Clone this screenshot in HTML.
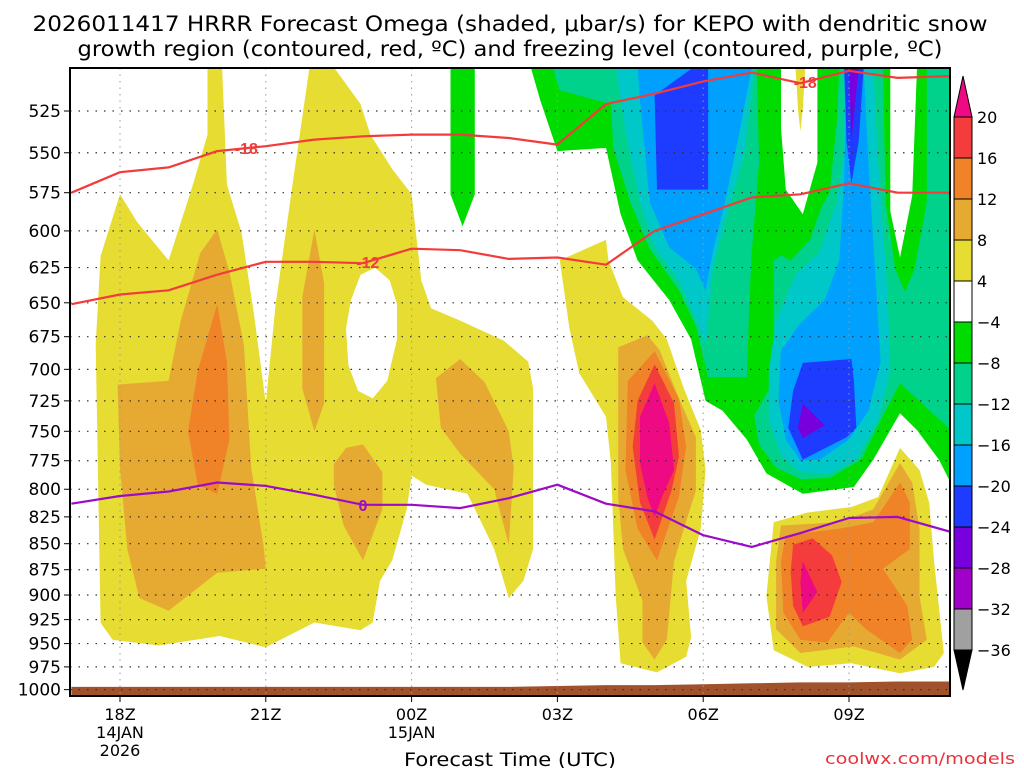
<!DOCTYPE html>
<html><head><meta charset="utf-8"><style>
html,body{margin:0;padding:0;background:#fff;}
svg{display:block;font-family:"DejaVu Sans","Liberation Sans",sans-serif;}
</style></head><body>
<svg id="chart" width="1024" height="768" xmlns="http://www.w3.org/2000/svg">
<defs><clipPath id="plotclip"><rect x="70" y="68" width="880" height="628"/></clipPath></defs>
<text x="510" y="31" font-size="21" text-anchor="middle" textLength="955" lengthAdjust="spacingAndGlyphs">2026011417 HRRR Forecast Omega (shaded, μbar/s) for KEPO with dendritic snow</text>
<text x="510" y="56" font-size="21" text-anchor="middle" textLength="865" lengthAdjust="spacingAndGlyphs">growth region (contoured, red, ºC) and freezing level (contoured, purple, ºC)</text>
<g id="shade" clip-path="url(#plotclip)"></g>
<g id="grid"></g>
<g id="lines" clip-path="url(#plotclip)"></g>
<g id="axes"></g>
<g id="cbar"></g>
<text x="510" y="766" font-size="19" text-anchor="middle" textLength="212" lengthAdjust="spacingAndGlyphs">Forecast Time (UTC)</text>
<text x="1015" y="764" font-size="16" fill="#e8323c" text-anchor="end" textLength="190" lengthAdjust="spacingAndGlyphs">coolwx.com/models</text>
</svg>
<script>
// ---- data ----
const pressureLevels = [525,550,575,600,625,650,675,700,725,750,775,800,825,850,875,900,925,950,975,1000];
const timeTicksHour = [18,21,24,27,30,33];
const timeTickLabels = [["18Z","14JAN","2026"],["21Z"],["00Z","15JAN"],["03Z"],["06Z"],["09Z"]];
const lineHours = [17,18,19,20,21,22,23,24,25,26,27,28,29,30,31,32,33,34,35.1];
const isoMinus18 = [575,562,559,549,546,542,540,539,539,541,545,521,515,508,503,509,502,506,505];
const isoMinus12 = [651,644,641,630,621,621,622,612,613,619,618,623,600,589,578,576,569,575,575];
const isoZero = [813,806,802,794,797,805,814,814,817,808,796,813,820,842,853,840,826,825,839];
const surfacePressure = [997,997,997,997,997,997,997,997,997,997,996,995,995,994,993,992,992,991,991];
const cbarLevels = [20,16,12,8,4,-4,-8,-12,-16,-20,-24,-28,-32,-36];
const cbarColors = ["#f53c3c","#f08228","#e6aa32","#e6dc32","#ffffff","#00dc00","#00d28c","#00c8c8","#00a0ff","#1e3cff","#7800dc","#a000c8","#a0a0a0"];
// omega contour regions: [[hour, hPa],...]
const regionYellowLeft = [[17.6,928],[17.5,681],[17.6,617],[18.0,576],[18.35,594],[19.0,620],[19.5,570],[19.8,539],[19.8,500],[20.1,500],[20.2,570],[20.5,601],[20.75,657],[21.0,727],[21.2,652],[21.55,570],[21.9,500],[22.4,500],[22.95,521],[23.15,539],[23.6,560],[24.0,576],[24.2,634],[24.4,654],[25.0,663],[25.9,678],[26.4,694],[26.5,715],[26.5,855],[26.3,886],[26.0,903],[25.7,855],[25.15,804],[24.3,796],[24.0,788],[23.9,818],[23.6,866],[23.35,886],[23.2,928],[22.95,936],[22.0,928],[21.0,954],[20.05,942],[18.8,952],[17.85,946],[17.65,932]];
const regionHoleLeft = [[22.75,648],[22.95,630],[23.25,625],[23.55,634],[23.7,651],[23.7,677],[23.5,709],[23.2,723],[22.9,717],[22.7,697],[22.65,669]];
const regionOrangeA = [[17.95,712],[19.0,709],[19.25,663],[19.65,615],[20.0,599],[20.25,628],[20.55,681],[20.7,781],[20.95,851],[21.0,874],[20.0,878],[19.0,916],[18.4,903],[18.15,855],[18.0,781]];
const regionOrangeB = [[20.0,651],[20.2,694],[20.25,757],[20.0,804],[19.6,796],[19.4,750],[19.6,701]];
const regionOrangeC = [[22.0,599],[22.2,636],[22.2,727],[22.0,750],[21.75,715],[21.75,646]];
const regionOrangeD = [[22.4,778],[22.65,764],[23.0,761],[23.4,785],[23.4,818],[23.0,866],[22.6,833],[22.4,796]];
const regionOrangeE = [[24.5,707],[25.0,692],[25.5,710],[26.0,750],[26.1,781],[26.0,851],[25.7,800],[25.0,769],[24.6,747]];
const regionGreenTop = [[24.8,500],[25.3,500],[25.3,576],[25.05,597],[24.8,576]];
const regionGreenBig = [[26.45,500],[35.1,500],[35.1,795],[34.85,774],[34.4,749],[34.05,735],[33.5,774],[33.1,798],[32.05,804],[31.3,786],[30.9,757],[30.4,733],[30.05,725],[29.75,677],[29.3,648],[28.65,620],[28.3,589],[28.0,547],[27.0,549],[26.65,519]];
const regionTealLeft = [[26.9,500],[31.1,500],[31.15,556],[31.0,614],[30.95,648],[30.9,706],[30.1,706],[29.85,667],[29.5,641],[28.9,612],[28.5,581],[28.15,547],[28.1,521],[27.05,513]];
const regionTealRight = [[32.8,500],[35.1,500],[35.1,749],[34.05,711],[33.65,741],[33.25,774],[32.6,790],[32.0,791],[31.5,781],[31.15,761],[31.05,737],[31.45,709],[31.45,620],[32.0,609],[32.6,575],[32.75,531]];
const regionGreenHoleRim = [[31.45,500],[32.8,500],[32.6,569],[32.2,606],[31.8,620],[31.45,614]];
const regionGreenColumn = [[33.7,500],[34.6,500],[34.6,581],[34.35,626],[34.15,642],[33.95,626],[33.75,581]];
const regionWhiteA = [[31.6,500],[32.35,500],[32.35,556],[32.05,589],[31.7,573],[31.6,535]];
const regionWhiteB = [[33.85,500],[34.4,500],[34.3,577],[34.05,618],[33.85,587],[33.85,535]];
const regionYellowSliver = [[31.9,500],[32.1,500],[32.05,524],[32.0,537],[31.95,524]];
const regionCyanLeft = [[28.2,500],[31.05,500],[30.85,550],[30.45,594],[30.2,626],[30.05,681],[29.85,662],[29.5,634],[29.0,611],[28.7,581],[28.4,537]];
const regionSkyLeft = [[28.65,500],[31.0,500],[30.75,537],[30.45,581],[30.2,614],[30.05,641],[29.85,626],[29.3,611],[28.9,581],[28.7,519]];
const regionBlueLeft = [[29.0,516],[29.75,501],[30.1,500],[30.1,573],[29.05,573]];
const regionCyanRight = [[32.9,500],[33.5,500],[33.6,556],[33.8,648],[33.85,701],[33.6,741],[33.15,774],[32.6,786],[32.0,785],[31.6,770],[31.35,741],[31.35,701],[31.5,663],[31.9,630],[32.4,614],[32.75,581],[32.9,549]];
const regionSkyRight = [[32.95,500],[33.3,500],[33.4,556],[33.55,634],[33.65,694],[33.4,733],[33.0,757],[32.4,774],[32.0,775],[31.7,757],[31.55,725],[31.6,685],[32.0,665],[32.5,648],[32.8,620],[32.9,569]];
const regionBlueTop = [[32.9,500],[33.3,500],[33.2,543],[33.05,569],[32.95,543]];
const regionBlueLow = [[32.05,695],[33.05,692],[33.1,709],[33.15,747],[32.95,755],[32.05,774],[31.75,747],[31.85,717]];
const regionPurpleTop = [[33.0,500],[33.2,500],[33.05,543]];
const regionPurpleLow = [[32.05,727],[32.5,745],[32.05,756],[31.95,747]];
const regionYellowMid = [[27.05,620],[28.0,606],[28.05,620],[28.35,646],[28.95,663],[29.25,677],[29.6,715],[29.95,749],[30.05,783],[29.95,836],[29.65,886],[29.75,943],[29.65,964],[29.05,981],[28.3,971],[28.2,901],[28.1,777],[28.0,738],[27.45,703],[27.25,669]];
const regionOrangeMid1 = [[28.25,683],[28.85,674],[29.1,685],[29.5,723],[29.85,755],[29.85,801],[29.6,836],[29.4,867],[29.25,946],[29.0,967],[28.75,949],[28.75,906],[28.35,855],[28.25,807],[28.25,723]];
const regionOrangeMid2 = [[28.45,709],[29.0,686],[29.5,723],[29.65,763],[29.5,807],[29.05,866],[28.65,836],[28.4,783]];
const regionRedMid = [[28.65,725],[29.0,696],[29.4,727],[29.5,771],[29.35,801],[29.0,846],[28.7,812],[28.55,763]];
const regionMagentaMid = [[28.7,738],[29.0,711],[29.3,743],[29.4,783],[29.15,807],[29.0,825],[28.85,807],[28.7,777]];
const regionYellowRight = [[31.45,830],[32.15,821],[33.05,816],[33.6,807],[34.05,764],[34.45,783],[34.65,812],[34.75,867],[34.95,960],[34.75,975],[34.05,982],[33.05,971],[32.15,975],[31.45,957],[31.3,901]];
const regionOrangeRight1 = [[31.6,833],[32.8,830],[33.5,818],[34.05,777],[34.3,794],[34.45,836],[34.45,901],[34.6,946],[34.05,967],[33.1,953],[32.0,960],[31.5,935],[31.5,867]];
const regionOrangeRight2 = [[31.7,842],[32.8,836],[33.5,830],[34.05,794],[34.25,812],[34.25,855],[33.7,874],[34.2,911],[34.3,946],[34.05,960],[33.35,935],[33.0,918],[32.55,949],[32.0,946],[31.65,918],[31.6,867]];
const regionRedRight = [[31.85,851],[32.25,845],[32.65,861],[32.85,887],[32.6,922],[32.05,932],[31.85,911],[31.8,877]];
const regionMagentaRight = [[32.05,867],[32.35,897],[32.05,918],[32.0,887]];

// ---- axes ----
function X(h){ return 120 + (h-18)*48.6; }
function Y(p){ return 111 + 898*Math.log(p/525); }
const NS="http://www.w3.org/2000/svg";
function mk(tag, attrs, parent){ const e=document.createElementNS(NS,tag); for(const k in attrs) e.setAttribute(k,attrs[k]); parent.appendChild(e); return e; }
const colorOf = {y:"#e6dc32",o1:"#e6aa32",o2:"#f08228",r:"#f53c3c",m:"#ee0a82",w:"#ffffff",g:"#00dc00",t:"#00d28c",c:"#00c8c8",s:"#00a0ff",b:"#1e3cff",p:"#7800dc"};
const shade=document.getElementById('shade');
const layers = [
 ["yellow-region-left",regionYellowLeft,"y"],["white-hole-left",regionHoleLeft,"w"],
 ["orange-region-a",regionOrangeA,"o1"],["orange-region-b",regionOrangeB,"o2"],["orange-region-c",regionOrangeC,"o1"],["orange-region-d",regionOrangeD,"o1"],["orange-region-e",regionOrangeE,"o1"],
 ["green-region-top",regionGreenTop,"g"],["green-region-big",regionGreenBig,"g"],
 ["teal-region-left",regionTealLeft,"t"],["teal-region-right",regionTealRight,"t"],
 ["green-hole-rim",regionGreenHoleRim,"g"],["green-column",regionGreenColumn,"g"],
 ["white-hole-a",regionWhiteA,"w"],["white-hole-b",regionWhiteB,"w"],["yellow-sliver",regionYellowSliver,"y"],
 ["cyan-region-left",regionCyanLeft,"c"],["sky-region-left",regionSkyLeft,"s"],["blue-region-left",regionBlueLeft,"b"],
 ["cyan-region-right",regionCyanRight,"c"],["sky-region-right",regionSkyRight,"s"],["blue-region-top",regionBlueTop,"b"],["blue-region-low",regionBlueLow,"b"],
 ["purple-region-top",regionPurpleTop,"p"],["purple-region-low",regionPurpleLow,"p"],
 ["yellow-region-mid",regionYellowMid,"y"],["orange-region-mid1",regionOrangeMid1,"o1"],["orange-region-mid2",regionOrangeMid2,"o2"],["red-region-mid",regionRedMid,"r"],["magenta-region-mid",regionMagentaMid,"m"],
 ["yellow-region-right",regionYellowRight,"y"],["orange-region-right1",regionOrangeRight1,"o1"],["orange-region-right2",regionOrangeRight2,"o2"],["red-region-right",regionRedRight,"r"],["magenta-region-right",regionMagentaRight,"m"]
];
layers.forEach(L=>{
  const pts = L[1].map(q=>X(q[0]).toFixed(1)+","+Y(q[1]).toFixed(1)).join(" ");
  const el = mk('polygon',{points:pts,fill:colorOf[L[2]]},shade);
  
  
});
// terrain
{
  let d = "M"+X(lineHours[0])+","+Y(1010);
  lineHours.forEach((h,i)=>{ d += " L"+X(h).toFixed(1)+","+Y(surfacePressure[i]).toFixed(1); });
  d += " L"+X(lineHours[lineHours.length-1])+","+Y(1010)+" Z";
  const el = mk('path',{d:d,fill:"#a0522d"},shade);
  
  
}
// grid
const grid=document.getElementById('grid');
pressureLevels.forEach(p=>{
  const el = mk('line',{x1:70,x2:950,y1:Y(p),y2:Y(p),stroke:"#333","stroke-width":1.2,"stroke-dasharray":"1.5,7"},grid);
  
  
});
timeTicksHour.forEach(h=>{
  const el = mk('line',{x1:X(h),x2:X(h),y1:68,y2:696,stroke:"#999","stroke-width":1,"stroke-dasharray":"1.5,5"},grid);
  
  
});
// lines
const lines=document.getElementById('lines');
function drawLine(arr,color,name){
  const pts = arr.map((p,i)=>X(lineHours[i]).toFixed(1)+","+Y(p).toFixed(1)).join(" ");
  const el = mk('polyline',{points:pts,fill:"none",stroke:color,"stroke-width":2.2,"stroke-linejoin":"round"},lines);
  
  
}
drawLine(isoMinus18,"#f23c3c","isotherm-minus18");
drawLine(isoMinus12,"#f23c3c","isotherm-minus12");
drawLine(isoZero,"#9c0cc8","freezing-level");
function label(txt,h,arr,color,name){
  let i=0; while(i<lineHours.length-2 && lineHours[i+1]<h) i++;
  const f=(h-lineHours[i])/(lineHours[i+1]-lineHours[i]);
  const p=arr[i]+(arr[i+1]-arr[i])*f;
  const el = mk('text',{x:X(h),y:Y(p)+6,"font-size":16,"font-weight":"bold",fill:color,"text-anchor":"middle","font-family":"Liberation Sans, sans-serif"},lines);
  el.textContent=txt;
  
  
}
label("-18",20.6,isoMinus18,"#f23c3c","label-minus18-a");
label("-18",32.1,isoMinus18,"#f23c3c","label-minus18-b");
label("-12",23.1,isoMinus12,"#f23c3c","label-minus12");
label("0",23.0,isoZero,"#9c0cc8","label-zero");
// axes
const axes=document.getElementById('axes');
{
  const el = mk('rect',{x:70,y:68,width:880,height:628,fill:"none",stroke:"#000","stroke-width":2},axes);
  
  
}
pressureLevels.forEach(p=>{
  const t = mk('line',{x1:64,x2:70,y1:Y(p),y2:Y(p),stroke:"#000","stroke-width":1},axes);
  
  
  const el = mk('text',{x:61,y:Y(p)+6,"font-size":17,"text-anchor":"end"},axes);
  el.textContent=String(p);
  
  
});
timeTicksHour.forEach((h,i)=>{
  const t = mk('line',{x1:X(h),x2:X(h),y1:696,y2:702,stroke:"#000","stroke-width":1},axes);
  
  
  timeTickLabels[i].forEach((s,j)=>{
    const el = mk('text',{x:X(h),y:720+j*18,"font-size":16,"text-anchor":"middle"},axes);
    el.textContent=s;
    
    
  });
});
// colorbar
const cb=document.getElementById('cbar');
function cbY(i){ return 117 + i*((650-117)/13); }
{
  const el = mk('polygon',{points:"954,"+cbY(0)+" 972,"+cbY(0)+" 963,76",fill:"#ee0a82",stroke:"#000","stroke-width":1},cb);
  
  
  const el2 = mk('polygon',{points:"954,"+cbY(13)+" 972,"+cbY(13)+" 963,690",fill:"#000",stroke:"#000","stroke-width":1},cb);
  
  
}
cbarColors.forEach((c,i)=>{
  const el = mk('rect',{x:954,y:cbY(i),width:18,height:cbY(i+1)-cbY(i),fill:c,stroke:"#000","stroke-width":1},cb);
  
  
});
cbarLevels.forEach((v,i)=>{
  const el = mk('text',{x:977,y:cbY(i)+6,"font-size":16},cb);
  el.textContent = v<0 ? "−"+Math.abs(v) : String(v);
  
  
});
</script>
</body></html>
